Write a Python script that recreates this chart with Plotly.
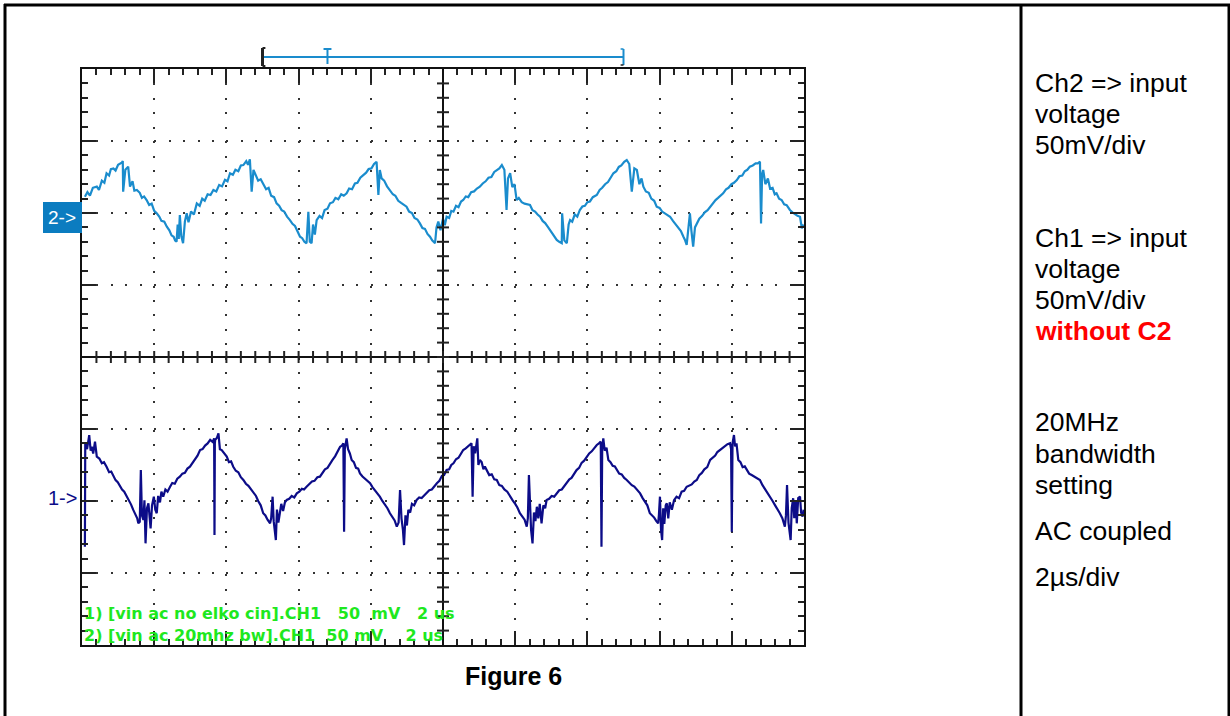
import plotly.graph_objects as go

# ---------------- data (time in µs, voltage in mV, AC coupled, relative to channel marker) -------------
ch2_t = [0.08, 0.15, 0.22, 0.30, 0.41, 0.47, 0.55, 0.62, 0.68, 0.75, 0.80, 0.87, 0.93, 1.00, 1.10, 1.13,
         1.14, 1.20, 1.28, 1.33, 1.40, 1.45, 1.52, 1.60, 1.66, 1.72, 1.79, 1.86, 1.93, 2.00, 2.07, 2.14,
         2.20, 2.28, 2.35, 2.42, 2.48, 2.54, 2.58, 2.62, 2.65, 2.68, 2.71, 2.75, 2.80, 2.85, 2.90, 2.95,
         3.02, 3.10, 3.18, 3.26, 3.33, 3.40, 3.48, 3.56, 3.64, 3.72, 3.80, 3.88, 3.96, 4.03, 4.10, 4.18,
         4.25, 4.33, 4.40, 4.47, 4.55, 4.60, 4.65, 4.70, 4.75, 4.82, 4.88, 4.95, 5.02, 5.10, 5.17, 5.24,
         5.32, 5.39, 5.46, 5.53, 5.60, 5.68, 5.76, 5.83, 5.90, 5.97, 6.04, 6.10, 6.16, 6.22, 6.27, 6.31,
         6.36, 6.40, 6.45, 6.50, 6.58, 6.65, 6.72, 6.80, 6.87, 6.95, 7.02, 7.10, 7.18, 7.25, 7.33, 7.40,
         7.48, 7.56, 7.63, 7.71, 7.79, 7.87, 7.94, 8.02, 8.09, 8.16, 8.21, 8.25, 8.30, 8.37, 8.45, 8.53,
         8.61, 8.68, 8.76, 8.84, 8.91, 8.99, 9.06, 9.14, 9.21, 9.29, 9.36, 9.43, 9.50, 9.57, 9.64, 9.70,
         9.78, 9.82, 9.87, 9.93, 10.00, 10.05, 10.10, 10.17, 10.23, 10.29, 10.36, 10.43, 10.50, 10.56, 10.63, 10.70,
         10.78, 10.86, 10.94, 11.02, 11.10, 11.18, 11.26, 11.34, 11.42, 11.49, 11.56, 11.63, 11.70, 11.76, 11.80, 11.86,
         11.92, 11.98, 12.04, 12.10, 12.18, 12.26, 12.34, 12.41, 12.48, 12.55, 12.62, 12.69, 12.76, 12.83, 12.90, 12.96,
         13.03, 13.09, 13.15, 13.22, 13.29, 13.30, 13.36, 13.43, 13.48, 13.52, 13.58, 13.65, 13.72, 13.79, 13.86, 13.93,
         14.00, 14.07, 14.15, 14.26, 14.34, 14.41, 14.49, 14.57, 14.64, 14.72, 14.80, 14.87, 14.94, 15.02, 15.09, 15.16,
         15.23, 15.30, 15.37, 15.44, 15.50, 15.55, 15.62, 15.70, 15.77, 15.85, 15.92, 16.00, 16.07, 16.14, 16.22, 16.29,
         16.37, 16.44, 16.51, 16.59, 16.66, 16.70, 16.75, 16.84, 16.88, 16.93, 16.98, 17.03, 17.10, 17.18, 17.25, 17.33,
         17.40, 17.48, 17.55, 17.62, 17.69, 17.76, 17.84, 17.91, 17.99, 18.06, 18.14, 18.21, 18.29, 18.36, 18.43, 18.50,
         18.58, 18.66, 18.72, 18.78, 18.81, 18.84, 18.87, 18.93, 19.00, 19.06, 19.13, 19.19, 19.24, 19.31, 19.38, 19.45,
         19.52, 19.61, 19.68, 19.75, 19.82, 19.89, 19.94, 19.99]
ch2_v = [11.3, 14.5, 12.0, 17.5, 18.3, 16.0, 22.5, 21.0, 27.6, 26.0, 30.5, 31.0, 29.5, 33.5, 34.9, 36.1,
         14.8, 30.0, 32.2, 18.3, 22.0, 15.5, 16.0, 14.0, 10.5, 11.5, 9.0, 5.5, 6.5, 1.5, -0.2, -2.5,
         -5.5, -6.0, -9.5, -12.0, -15.5, -16.5, -19.2, -19.9, -8.0, -18.0, -1.4, -16.0, -21.0, -6.0, -0.2, -6.5,
         1.0, -1.0, 6.7, 5.0, 10.0, 8.5, 13.0, 12.5, 16.0, 15.0, 19.5, 18.5, 23.0, 22.0, 27.6, 26.5,
         30.0, 29.0, 33.0, 33.3, 36.0, 33.5, 37.3, 14.8, 29.9, 26.0, 22.5, 23.5, 20.6, 16.5, 17.5, 12.0,
         11.0, 6.7, 5.0, 2.0, 1.0, -2.5, -4.9, -7.5, -9.0, -12.5, -16.5, -17.5, -20.0, -21.0, 0.9, -20.0,
         -21.0, -8.0, -15.0, -4.9, -2.0, -3.5, 2.0, 3.0, 6.7, 7.5, 10.5, 9.5, 13.0, 12.0, 13.7, 17.0,
         16.5, 20.5, 21.0, 24.5, 26.4, 28.0, 30.5, 31.0, 34.0, 35.6, 12.5, 29.9, 24.0, 22.5, 18.5, 16.0,
         13.0, 12.0, 8.5, 7.0, 5.5, 4.4, 1.0, 0.0, -3.5, -4.5, -7.2, -10.5, -11.0, -14.5, -16.5, -19.0,
         -21.0, -10.0, -6.0, -12.0, -4.0, -8.5, -2.6, -3.5, 1.5, 0.9, 5.0, 4.0, 8.0, 9.0, 11.5, 11.0,
         14.5, 15.0, 17.0, 18.3, 20.5, 22.0, 24.5, 25.0, 28.5, 29.9, 31.0, 33.3, 30.0, 2.1, 24.0, 27.6,
         18.0, 20.0, 9.0, 10.5, 7.5, 6.5, 6.0, 5.6, 2.0, 1.0, -1.0, -2.6, -5.5, -7.0, -9.5, -11.8,
         -14.5, -16.0, -18.7, -20.0, -21.0, -0.2, -19.0, -21.0, -8.0, -4.9, -6.0, -1.0, -2.5, 2.1, 4.5, 5.0,
         7.5, 8.0, 11.0, 12.5, 16.0, 17.5, 20.0, 21.5, 24.5, 27.6, 29.0, 32.0, 33.0, 35.5, 36.8, 34.0,
         14.8, 31.0, 29.9, 20.0, 24.0, 18.3, 15.0, 14.0, 10.0, 8.5, 4.4, 3.5, 1.0, 0.0, -1.5, -2.6,
         -5.5, -7.5, -10.0, -12.5, -16.5, -18.5, -22.2, -0.2, -12.0, -23.4, -10.0, -7.2, -4.0, -2.0, 0.5, 2.0,
         4.4, 7.0, 9.0, 10.5, 12.0, 13.7, 16.5, 17.5, 20.0, 21.0, 22.9, 25.5, 26.0, 29.0, 30.0, 32.2,
         33.0, 34.5, 34.5, 35.6, -7.2, 27.0, 29.9, 20.0, 24.0, 17.0, 17.5, 13.0, 13.7, 10.0, 9.0, 6.0,
         5.5, 2.1, 0.5, -1.0, -2.0, -2.6, -10.6, -8.0]

ch1_t = [0.08, 0.09, 0.14, 0.20, 0.24, 0.27, 0.31, 0.36, 0.41, 0.48, 0.55, 0.61, 0.68, 0.75, 0.81, 0.87,
         0.93, 0.99, 1.05, 1.11, 1.17, 1.24, 1.30, 1.36, 1.42, 1.48, 1.53, 1.56, 1.60, 1.63, 1.66, 1.70,
         1.73, 1.76, 1.80, 1.84, 1.87, 1.90, 1.94, 1.99, 2.03, 2.07, 2.11, 2.16, 2.20, 2.25, 2.31, 2.37,
         2.44, 2.50, 2.57, 2.64, 2.71, 2.78, 2.85, 2.92, 2.99, 3.06, 3.13, 3.20, 3.27, 3.34, 3.41, 3.48,
         3.55, 3.62, 3.66, 3.67, 3.68, 3.69, 3.74, 3.78, 3.82, 3.87, 3.94, 4.01, 4.07, 4.13, 4.19, 4.26,
         4.33, 4.40, 4.47, 4.54, 4.61, 4.68, 4.75, 4.82, 4.88, 4.95, 5.02, 5.08, 5.14, 5.21, 5.24, 5.28,
         5.31, 5.34, 5.37, 5.40, 5.44, 5.48, 5.52, 5.57, 5.62, 5.67, 5.74, 5.81, 5.88, 5.95, 6.02, 6.09,
         6.15, 6.22, 6.30, 6.37, 6.44, 6.52, 6.59, 6.66, 6.73, 6.80, 6.87, 6.94, 7.01, 7.08, 7.15, 7.20,
         7.24, 7.26, 7.28, 7.33, 7.37, 7.42, 7.47, 7.53, 7.59, 7.65, 7.70, 7.77, 7.84, 7.91, 7.98, 8.05,
         8.12, 8.18, 8.25, 8.32, 8.39, 8.46, 8.53, 8.60, 8.66, 8.72, 8.77, 8.81, 8.85, 8.89, 8.92, 8.96,
         9.00, 9.04, 9.09, 9.14, 9.20, 9.27, 9.34, 9.41, 9.48, 9.55, 9.62, 9.69, 9.76, 9.83, 9.90, 9.97,
         10.03, 10.10, 10.17, 10.23, 10.29, 10.36, 10.43, 10.50, 10.56, 10.63, 10.70, 10.76, 10.79, 10.82, 10.85, 10.89,
         10.92, 10.95, 10.98, 11.02, 11.07, 11.12, 11.16, 11.21, 11.28, 11.35, 11.42, 11.49, 11.56, 11.63, 11.70, 11.78,
         11.86, 11.93, 12.00, 12.06, 12.13, 12.20, 12.26, 12.32, 12.35, 12.38, 12.41, 12.44, 12.48, 12.52, 12.56, 12.60,
         12.64, 12.68, 12.73, 12.78, 12.83, 12.87, 12.94, 13.01, 13.08, 13.15, 13.22, 13.29, 13.36, 13.43, 13.50, 13.56,
         13.63, 13.70, 13.77, 13.84, 13.91, 13.98, 14.05, 14.12, 14.19, 14.26, 14.32, 14.37, 14.39, 14.41, 14.44, 14.48,
         14.53, 14.58, 14.64, 14.70, 14.76, 14.81, 14.88, 14.95, 15.02, 15.09, 15.16, 15.23, 15.30, 15.38, 15.46, 15.53,
         15.60, 15.66, 15.73, 15.79, 15.85, 15.91, 15.96, 15.98, 16.01, 16.04, 16.07, 16.10, 16.13, 16.17, 16.20, 16.24,
         16.28, 16.34, 16.40, 16.47, 16.54, 16.61, 16.68, 16.75, 16.82, 16.89, 16.96, 17.03, 17.10, 17.17, 17.24, 17.32,
         17.40, 17.47, 17.54, 17.60, 17.67, 17.74, 17.81, 17.88, 17.95, 17.98, 18.00, 18.02, 18.06, 18.09, 18.13, 18.18,
         18.24, 18.30, 18.36, 18.41, 18.48, 18.55, 18.62, 18.70, 18.78, 18.85, 18.92, 18.99, 19.06, 19.13, 19.20, 19.27,
         19.33, 19.40, 19.47, 19.50, 19.53, 19.57, 19.60, 19.63, 19.66, 19.70, 19.73, 19.77, 19.80, 19.84, 19.89, 19.92,
         19.96, 19.99]
ch1_v = [-31.7, 40.1, 36.0, 45.8, 35.0, 37.7, 33.0, 41.2, 30.8, 29.5, 26.2, 27.0, 23.8, 20.0, 20.5, 16.9,
         14.5, 13.0, 9.9, 8.0, 6.5, 3.0, 1.0, -2.5, -6.2, -9.5, -12.0, -15.5, -14.5, 21.5, -10.0, -13.2,
         0.5, -29.4, -5.0, -1.6, -14.0, -19.0, -3.0, 3.0, -6.0, -8.5, 3.5, -1.0, 6.5, 3.0, 8.0, 6.5,
         9.9, 12.5, 12.0, 15.5, 16.9, 19.0, 19.5, 22.5, 23.8, 26.5, 29.0, 31.5, 35.4, 36.0, 38.5, 40.0,
         42.4, 41.0, 43.5, -23.6, 40.0, 42.4, 44.0, 47.0, 36.0, 35.4, 33.0, 30.8, 27.0, 27.5, 23.8, 21.0,
         20.0, 16.5, 14.6, 12.0, 10.5, 8.0, 5.3, 3.5, 0.0, -3.0, -8.5, -10.0, -13.0, -15.5, -12.0, 3.0,
         -14.0, -20.0, -27.1, -6.0, -15.0, -8.5, -2.0, -7.0, -1.0, 0.7, 1.5, 3.5, 2.5, 5.3, 6.5, 8.5,
         8.0, 9.9, 12.0, 13.5, 14.0, 16.5, 16.9, 19.5, 22.0, 23.0, 26.2, 28.5, 31.0, 34.5, 37.7, 38.5,
         40.1, -21.3, 36.0, 43.5, 36.0, 33.0, 28.5, 27.0, 23.0, 22.5, 19.2, 17.0, 15.5, 14.0, 12.3, 9.5,
         7.5, 5.5, 3.0, 0.0, -2.5, -5.0, -8.5, -11.0, -13.5, -17.8, -15.0, 7.6, -12.0, -20.0, -30.6, -10.0,
         -17.0, -6.2, -8.0, -2.0, -3.0, 0.7, 2.5, 2.0, 4.0, 5.3, 7.5, 8.0, 10.5, 12.3, 14.0, 17.5,
         18.0, 21.5, 22.0, 25.0, 26.2, 29.0, 30.0, 33.5, 35.4, 36.5, 38.0, 39.0, 40.1, 3.0, 38.0, 33.1,
         40.0, 43.5, 25.0, 28.5, 27.0, 22.0, 24.0, 21.5, 18.0, 18.5, 15.0, 14.6, 11.0, 10.5, 8.0, 6.5,
         3.0, 0.5, -2.0, -4.5, -8.5, -11.0, -13.0, -17.8, -12.0, 18.1, -8.0, -20.0, -29.4, -8.0, -14.0, -4.0,
         -12.0, -2.0, -15.5, -3.0, -5.0, 0.7, 1.5, 3.5, 3.0, 5.3, 7.5, 8.0, 10.5, 12.3, 15.0, 16.0,
         19.0, 21.5, 23.0, 26.5, 28.0, 30.8, 33.0, 34.5, 37.0, 38.9, 40.0, 41.2, -31.7, 36.0, 43.5, 35.0,
         37.0, 28.5, 27.0, 24.5, 24.0, 21.5, 19.0, 18.5, 16.0, 14.6, 12.5, 11.0, 10.0, 7.5, 5.3, 2.0,
         -1.0, -3.0, -8.5, -10.0, -11.5, -14.0, -15.5, -10.0, 3.0, -20.0, -27.1, -5.0, -16.0, -3.0, -1.6, -12.0,
         -1.0, -6.0, 0.5, 3.0, 2.0, 6.5, 7.0, 9.9, 11.0, 11.5, 13.5, 14.6, 18.0, 19.5, 22.0, 23.5,
         28.5, 30.0, 31.5, 34.0, 35.4, 37.0, 38.0, 39.5, 40.1, 36.0, -21.3, 40.0, 45.8, 38.0, 40.0, 28.5,
         27.0, 23.5, 24.0, 21.5, 19.0, 18.0, 17.0, 15.5, 14.6, 11.0, 8.0, 6.0, 3.0, 0.0, -3.0, -5.5,
         -8.5, -12.0, -17.8, -10.0, 11.1, -15.0, -22.0, -27.1, -5.0, 1.9, -12.0, 0.5, -15.5, 2.0, 3.0, -8.0,
         -10.9, -6.0]

ch2_offset_mv = 100     # channel 2 marker position (2 div above centre)
ch1_offset_mv = -100    # channel 1 marker position (2 div below centre)
trigger_window = [5.0, 15.0]
trigger_pos = 6.8

legend_lines = ["1) [vin ac no elko cin].CH1   50  mV   2 us",
                "2) [vin ac 20mhz bw].CH1  50 mV    2 us"]
side_text = [("Ch2 => input", 83, "black", False), ("voltage", 114, "black", False),
             ("50mV/div", 145, "black", False), ("Ch1 => input", 238, "black", False),
             ("voltage", 269, "black", False), ("50mV/div", 300, "black", False),
             ("without C2", 331, "#ff0000", True), ("20MHz", 422, "black", False),
             ("bandwidth", 454, "black", False), ("setting", 485, "black", False),
             ("AC coupled", 531, "black", False), ("2µs/div", 577, "black", False)]

# ---------------- layout helpers -------------
W, H = 1230, 716
def px(x): return x / W
def py(y): return 1 - y / H

PL, PR, PT, PB = 82, 804, 69, 645
C2 = "#1a8ccd"
C1 = "#0c0c88"
GREEN = "#1ee81e"
FONT = "Liberation Sans, Arial, sans-serif"

fig = go.Figure()
fig.add_trace(go.Scatter(x=ch2_t, y=[v + ch2_offset_mv for v in ch2_v], mode="lines",
                         line=dict(color=C2, width=2.2), hoverinfo="skip", showlegend=False))
fig.add_trace(go.Scatter(x=ch1_t, y=[v + ch1_offset_mv for v in ch1_v], mode="lines",
                         line=dict(color=C1, width=2.2), hoverinfo="skip", showlegend=False))

axis_common = dict(showticklabels=False, zeroline=False, showgrid=True, gridcolor="#333333",
                   gridwidth=2, griddash="2px,12.44px", ticks="inside", tickwidth=2,
                   tickcolor="#222222", ticklen=14, showline=True, linecolor="#111111",
                   linewidth=2, mirror="allticks", fixedrange=True)
fig.update_xaxes(range=[0, 20], dtick=2, tick0=0, domain=[px(PL), px(PR)],
                 minor=dict(dtick=0.4, tick0=0, ticks="inside", ticklen=6, tickwidth=2,
                            tickcolor="#222222", showgrid=False), **axis_common)
fig.update_yaxes(range=[-200, 200], dtick=50, tick0=0, domain=[py(PB), py(PT)],
                 minor=dict(dtick=10, tick0=0, ticks="inside", ticklen=6, tickwidth=2,
                            tickcolor="#222222", showgrid=False), **axis_common)

shapes = []
# centre cross lines with ticks on both sides
shapes.append(dict(type="line", xref="x", yref="y", x0=0, x1=20, y0=0, y1=0,
                   line=dict(color="#111111", width=2)))
shapes.append(dict(type="line", xref="x", yref="y", x0=10, x1=10, y0=-200, y1=200,
                   line=dict(color="#111111", width=2)))
tx = 6 / 722 * 20   # 6 px in µs
ty = 6 / 72 * 50    # 6 px in mV
for i in range(1, 50):
    t = i * 0.4
    shapes.append(dict(type="line", xref="x", yref="y", x0=t, x1=t, y0=-ty, y1=ty,
                       line=dict(color="#222222", width=2)))
for i in range(1, 40):
    v = -200 + i * 10
    shapes.append(dict(type="line", xref="x", yref="y", x0=10 - tx, x1=10 + tx, y0=v, y1=v,
                       line=dict(color="#222222", width=2)))

# trigger / window bar above the screen
ybar = py(57)
shapes.append(dict(type="line", xref="x", yref="paper", x0=trigger_window[0], x1=trigger_window[1],
                   y0=ybar, y1=ybar, line=dict(color=C2, width=2)))
shapes.append(dict(type="line", xref="x", yref="paper", x0=trigger_window[0], x1=trigger_window[0],
                   y0=py(48), y1=py(66), line=dict(color="#222222", width=3)))
shapes.append(dict(type="line", xref="x", yref="paper", x0=trigger_window[0], x1=trigger_window[0] + 0.08,
                   y0=py(48), y1=py(48), line=dict(color="#222222", width=2)))
shapes.append(dict(type="line", xref="x", yref="paper", x0=trigger_window[0], x1=trigger_window[0] + 0.08,
                   y0=py(66), y1=py(66), line=dict(color="#222222", width=2)))
shapes.append(dict(type="line", xref="x", yref="paper", x0=trigger_pos, x1=trigger_pos,
                   y0=py(49), y1=py(64), line=dict(color=C2, width=2)))
shapes.append(dict(type="line", xref="x", yref="paper", x0=trigger_pos - 0.11, x1=trigger_pos + 0.11,
                   y0=py(49), y1=py(49), line=dict(color=C2, width=2)))
shapes.append(dict(type="line", xref="x", yref="paper", x0=trigger_window[1], x1=trigger_window[1],
                   y0=py(49), y1=py(65), line=dict(color=C2, width=2)))
shapes.append(dict(type="line", xref="x", yref="paper", x0=trigger_window[1] - 0.08, x1=trigger_window[1],
                   y0=py(49), y1=py(49), line=dict(color=C2, width=1.5)))
shapes.append(dict(type="line", xref="x", yref="paper", x0=trigger_window[1] - 0.08, x1=trigger_window[1],
                   y0=py(65), y1=py(65), line=dict(color="#222222", width=1.5)))

# channel 2 marker box
shapes.append(dict(type="rect", xref="paper", yref="paper", x0=px(43), x1=px(82),
                   y0=py(233), y1=py(202), fillcolor="#0b7cc0", line=dict(width=0)))

# table borders
for (x0, y0, x1, y1) in [(4, 5, 1230, 5), (5, 4, 5, 716), (1021, 4, 1021, 716), (1229, 4, 1229, 716)]:
    shapes.append(dict(type="line", xref="paper", yref="paper", x0=px(x0), x1=px(x1),
                       y0=py(y0), y1=py(y1), line=dict(color="black", width=3)))

annotations = []
annotations.append(dict(text="2->", xref="paper", yref="paper", x=px(62), y=py(217), showarrow=False,
                        font=dict(family=FONT, size=19, color="white"), xanchor="center", yanchor="middle"))
annotations.append(dict(text="1->", xref="paper", yref="paper", x=px(62), y=py(498), showarrow=False,
                        font=dict(family=FONT, size=20, color=C1), xanchor="center", yanchor="middle"))
for i, line in enumerate(legend_lines):
    annotations.append(dict(text="<b>" + line.replace(" ", "\u00a0") + "</b>", xref="paper", yref="paper",
                            x=px(82), y=py(613 + 22 * i), showarrow=False, xanchor="left", yanchor="middle",
                            font=dict(family="DejaVu Sans, sans-serif", size=16, color=GREEN)))
annotations.append(dict(text="<b>Figure 6</b>", xref="paper", yref="paper", x=px(513), y=py(676),
                        showarrow=False, xanchor="center", yanchor="middle",
                        font=dict(family=FONT, size=25, color="black")))
for txt, yy, col, bold in side_text:
    annotations.append(dict(text=("<b>%s</b>" % txt) if bold else txt, xref="paper", yref="paper",
                            x=px(1033), y=py(yy), showarrow=False, xanchor="left", yanchor="middle",
                            font=dict(family=FONT, size=26.5, color=col)))

fig.update_layout(width=W, height=H, margin=dict(l=0, r=0, t=0, b=0), paper_bgcolor="white",
                  plot_bgcolor="white", shapes=shapes, annotations=annotations, showlegend=False)
fig.write_html("out.html", config={"displayModeBar": False},
               post_script="document.body.style.margin='0';document.body.style.overflow='hidden';")
